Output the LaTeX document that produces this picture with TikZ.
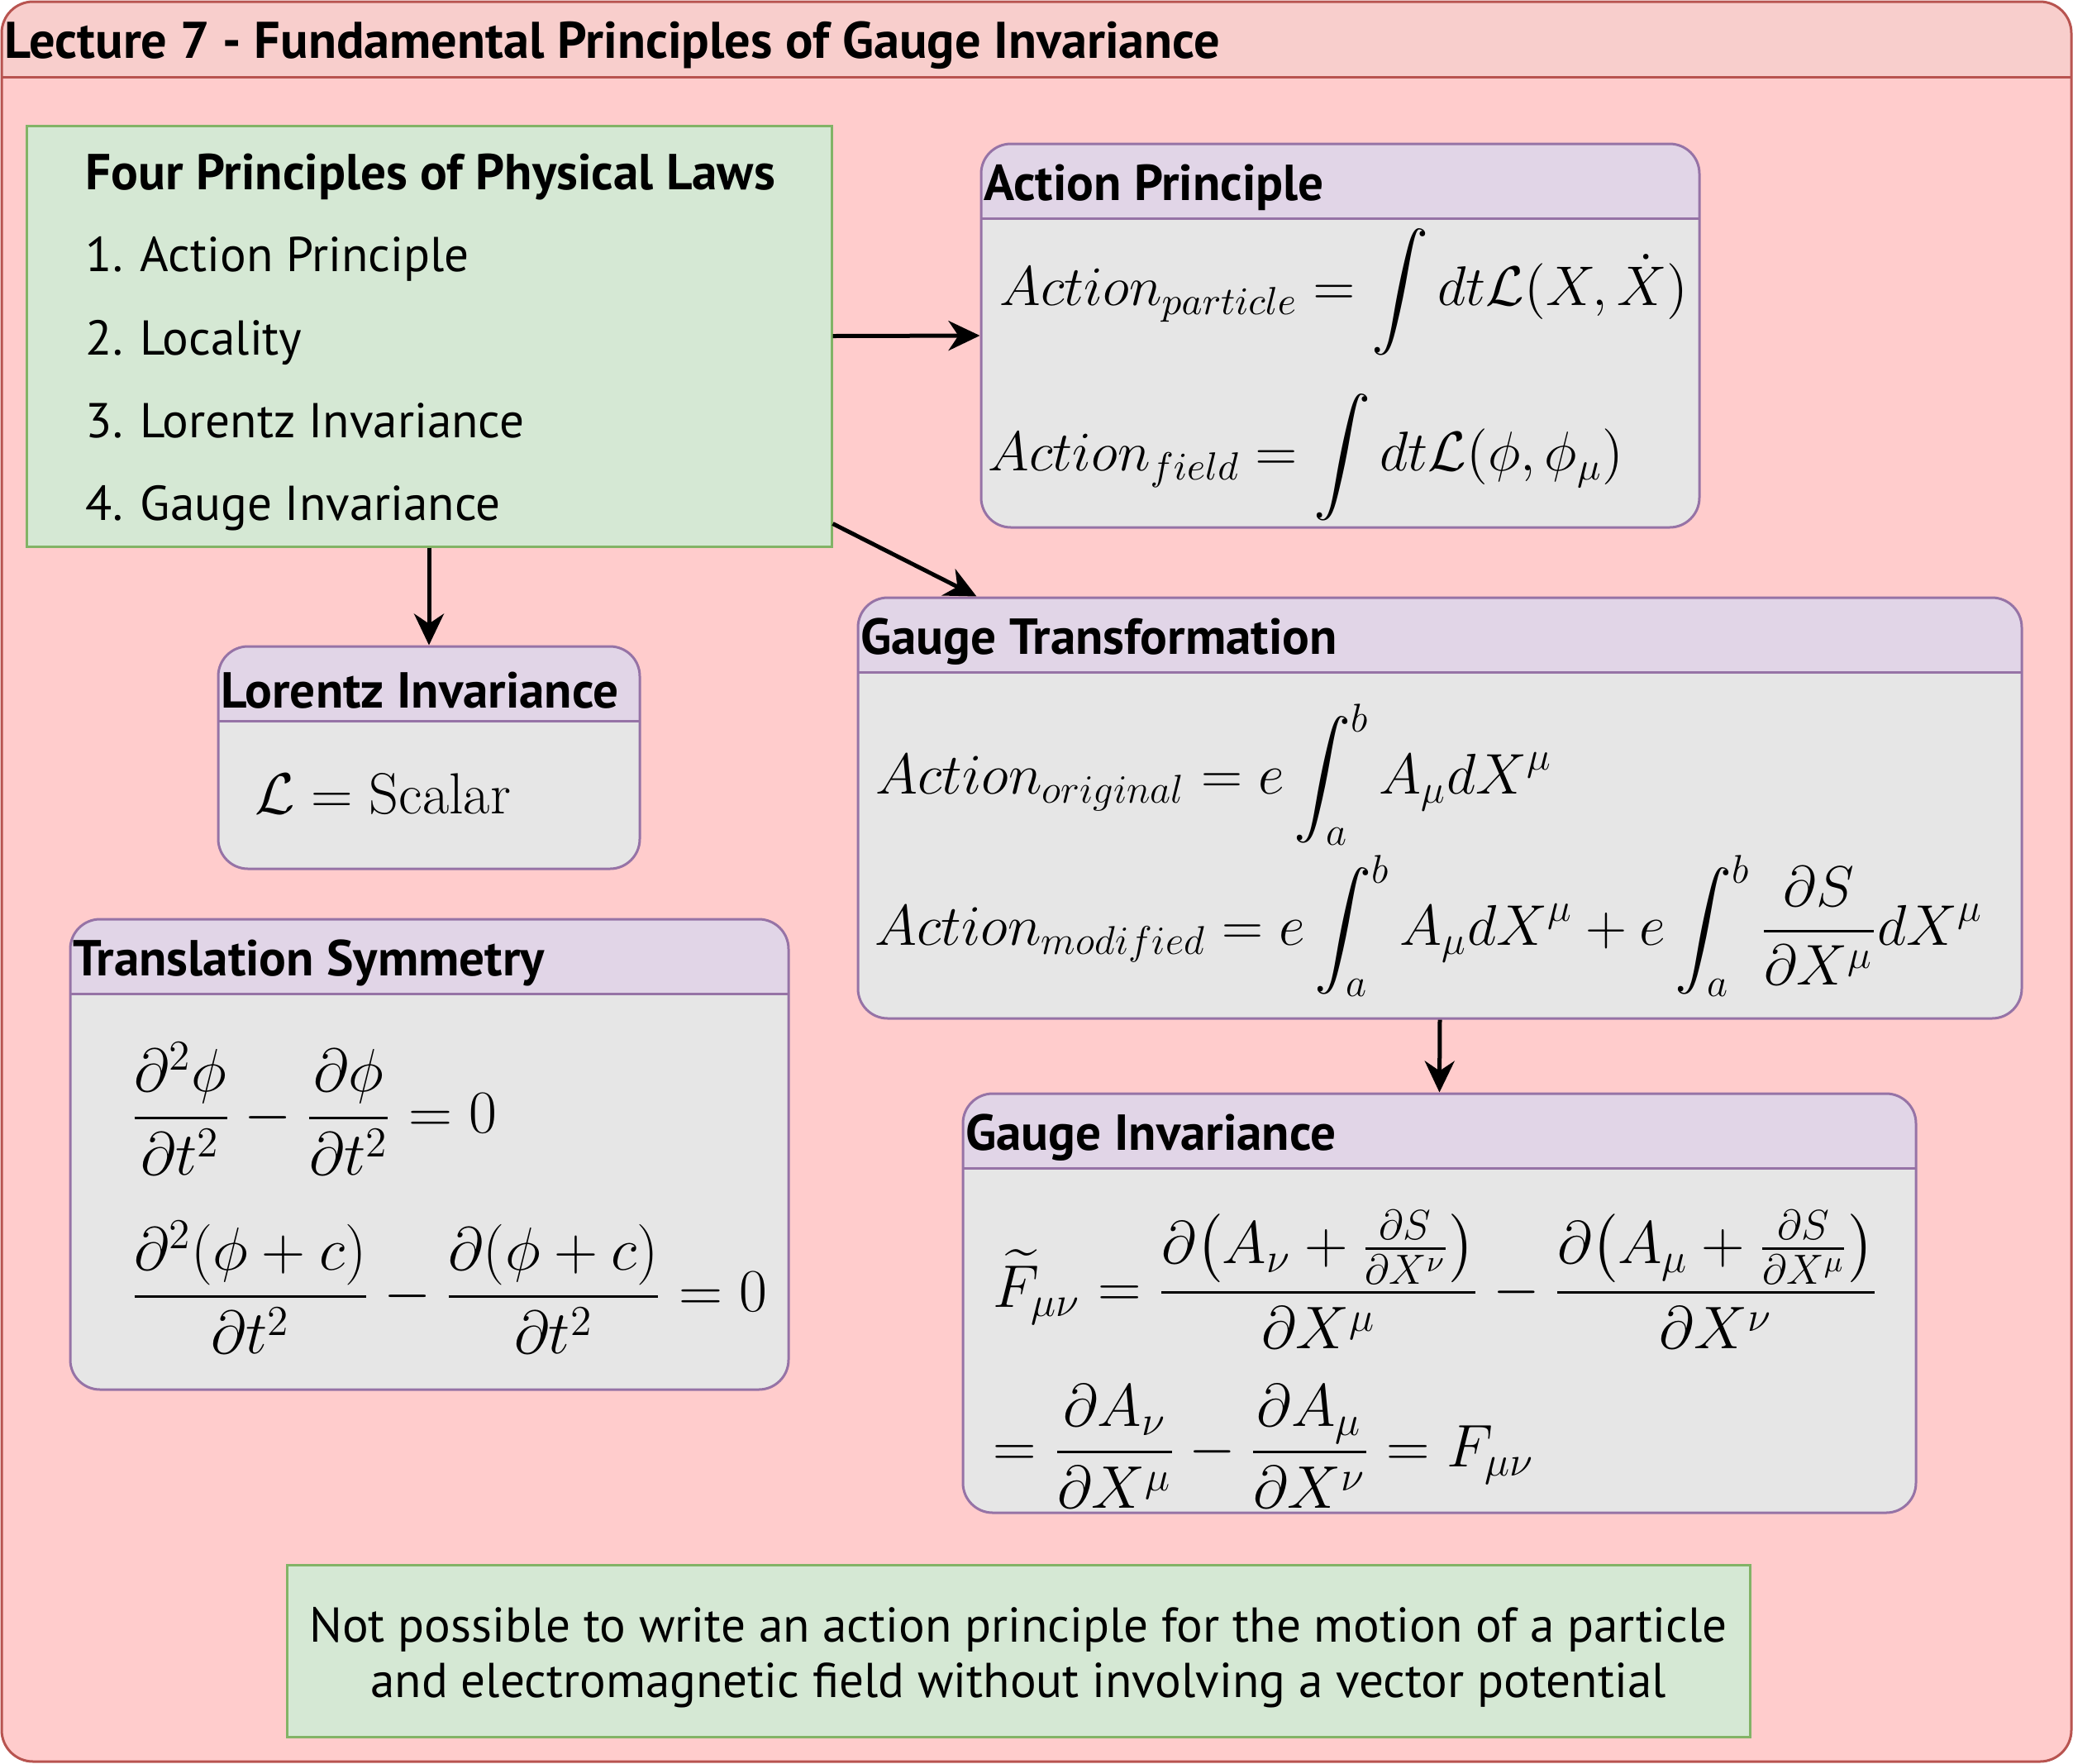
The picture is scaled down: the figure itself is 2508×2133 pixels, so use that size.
\documentclass[tikz,border=0pt]{standalone}
\usepackage{fix-cm}
\usepackage{amsmath}
\usepackage{fontspec}
\newfontfamily\comic{PT Sans}
\usetikzlibrary{arrows.meta, positioning, fit}
\definecolor{framedraw}{HTML}{B85450}
\definecolor{framehead}{HTML}{F8CECC}
\definecolor{framebody}{HTML}{FFCCCC}
\definecolor{lanedraw}{HTML}{9673A6}
\definecolor{lanehead}{HTML}{E1D5E7}
\definecolor{lanebody}{HTML}{E6E6E6}
\definecolor{notedraw}{HTML}{82B366}
\definecolor{notefill}{HTML}{D5E8D4}

\begin{document}
\begin{tikzpicture}[x=0.25pt, y=-0.25pt,
      frame/.style={draw=framedraw, line width=0.75pt, fill=framebody, rounded corners=9.5pt,
                    inner sep=0pt,
                    path picture={
                      \fill[framehead, sharp corners] (path picture bounding box.north west)
                        rectangle ([yshift=-22.75pt]path picture bounding box.north east);
                      \draw[framedraw, line width=0.75pt] ([yshift=-22.75pt]path picture bounding box.north west)
                        -- ([yshift=-22.75pt]path picture bounding box.north east);}},
      lane/.style={draw=lanedraw, line width=0.75pt, fill=lanebody, rounded corners=9pt,
                   inner sep=0pt,
                   path picture={
                     \fill[lanehead, sharp corners] (path picture bounding box.north west)
                       rectangle ([yshift=-22.5pt]path picture bounding box.north east);
                     \draw[lanedraw, line width=0.75pt] ([yshift=-22.5pt]path picture bounding box.north west)
                       -- ([yshift=-22.5pt]path picture bounding box.north east);}},
      note/.style={draw=notedraw, line width=0.75pt, fill=notefill, inner sep=0pt},
      head/.style={anchor=west, inner xsep=1pt, font=\comic\bfseries\fontsize{15.3}{18}\selectfont},
      item/.style={anchor=base west, inner sep=0pt, font=\comic\fontsize{14.8}{17}\selectfont},
      eq/.style={anchor=west, inner sep=0pt, font=\fontsize{17.35}{20}\selectfont},
      arr/.style={-{Stealth[length=9.5pt, width=9pt, inset=3pt]}, line width=1.25pt}]
    \useasboundingbox (0,0) rectangle (2508,2133);

    % outer frame
    \node[frame, fit={(2,2) (2506,2131)}] (lecture) {};
    \node[head, font=\comic\bfseries\fontsize{15.6}{18}\selectfont] (lecturehead)
      at ([yshift=-13.7pt]lecture.north west) {Lecture 7 - Fundamental Principles of Gauge Invariance};

    % four principles
    \node[note, fit={(32,152) (1006,661)}] (four) {};
    \node[item, font=\comic\bfseries\fontsize{15.3}{18}\selectfont] (fourhead) at (103,229) {Four Principles of Physical Laws};
    \node[item] (p1) at (103,328) {1. Action Principle};
    \node[item] (p2) at (103,429) {2. Locality};
    \node[item] (p3) at (103,529) {3. Lorentz Invariance};
    \node[item] (p4) at (103,629) {4. Gauge Invariance};

    % action principle
    \node[lane, fit={(1187,174) (2056,638)}] (action) {};
    \node[head] (actionhead) at ([yshift=-13.7pt]action.north west) {Action Principle};
    \node[eq, font=\fontsize{16.9}{20}\selectfont] (actionpart) at (1209,353) {$\displaystyle Action_{particle} = \int dt\mathcal{L}(X, \dot{X})$};
    \node[eq, font=\fontsize{16.9}{20}\selectfont] (actionfield) at (1195,553) {$\displaystyle Action_{field} = \int dt\mathcal{L}(\phi, \phi_{\mu})$};

    % lorentz invariance
    \node[lane, fit={(264,782) (774,1051)}] (lorentz) {};
    \node[head] (lorentzhead) at ([yshift=-13.7pt]lorentz.north west) {Lorentz Invariance};
    \node[eq, font=\fontsize{17.55}{20}\selectfont] (scalar) at (308,961) {$\mathcal{L} = \mathrm{Scalar}$};

    % translation symmetry
    \node[lane, fit={(85,1112) (954,1681)}] (transl) {};
    \node[head] (translhead) at ([yshift=-13.7pt]transl.north west) {Translation Symmetry};
    \node[eq, font=\fontsize{18.4}{20}\selectfont] (wave1) at (157,1341) {$\displaystyle \frac{\partial^2\phi}{\partial t^2} - \frac{\partial\phi}{\partial t^2} = 0$};
    \node[eq, font=\fontsize{18.4}{20}\selectfont] (wave2) at (157,1557) {$\displaystyle \frac{\partial^2(\phi + c)}{\partial t^2} - \frac{\partial(\phi + c)}{\partial t^2} = 0$};

    % gauge transformation
    \node[lane, fit={(1038,723) (2446,1232)}] (gtrans) {};
    \node[head] (gtranshead) at ([yshift=-13.7pt]gtrans.north west) {Gauge Transformation};
    \node[eq] (original) at (1059,937) {$\displaystyle Action_{original} = e\int_a^b A_{\mu}dX^{\mu}$};
    \node[eq] (modified) at (1058,1120) {$\displaystyle Action_{modified} = e\int_a^b A_{\mu}dX^{\mu} + e\int_a^b \frac{\partial S}{\partial X^{\mu}}dX^{\mu}$};

    % gauge invariance
    \node[lane, fit={(1165,1323) (2318,1830)}] (ginv) {};
    \node[head] (ginvhead) at ([yshift=-13.7pt]ginv.north west) {Gauge Invariance};
    \node[eq, font=\fontsize{18.2}{20}\selectfont] (fieldtilde) at (1201,1548) {$\displaystyle \widetilde{F}_{\mu\nu} = \frac{\partial\!\left(A_{\nu} + \frac{\partial S}{\partial X^{\nu}}\right)}{\partial X^{\mu}} - \frac{\partial\!\left(A_{\mu} + \frac{\partial S}{\partial X^{\mu}}\right)}{\partial X^{\nu}}$};
    \node[eq, font=\fontsize{18.2}{20}\selectfont] (fieldsame) at (1201,1750) {$\displaystyle = \frac{\partial A_{\nu}}{\partial X^{\mu}} - \frac{\partial A_{\mu}}{\partial X^{\nu}} = F_{\mu\nu}$};

    % conclusion
    \node[note, fit={(347,1893) (2117,2101)}] (summary) {};
    \node[align=center, font=\comic\fontsize{14.8}{16.8}\selectfont] (summarytext) at ([yshift=-2pt]summary.center)
      {Not possible to write an action principle for the motion of a particle\\
       and electromagnetic field without involving a vector potential};

    \draw[arr] (four.east) -- (action.west);
    \draw[arr] ([yshift=7.25pt]four.south east) -- ([xshift=36.25pt]gtrans.north west);
    \draw[arr] (four.south) -- (lorentz.north);
    \draw[arr] (gtrans.south) -- (ginv.north);
  \end{tikzpicture}
\end{document}
